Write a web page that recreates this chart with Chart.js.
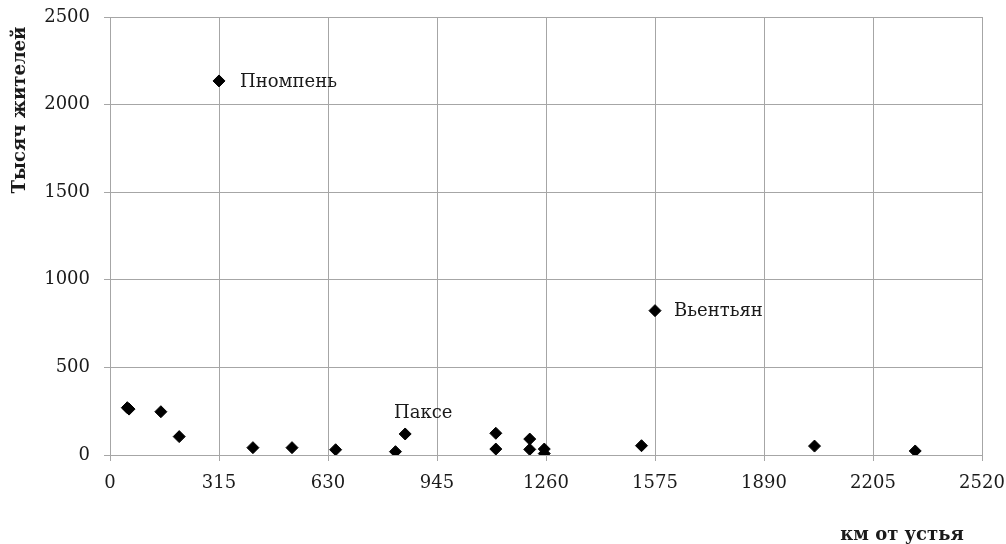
<!DOCTYPE html>
<html>
<head>
<meta charset="utf-8">
<script src="https://cdn.jsdelivr.net/npm/chart.js@4"></script>
<style>
  html, body { margin: 0; padding: 0; background: #fff; }
  #wrap { width: 1006px; height: 544px; }
</style>
</head>
<body>
<div id="wrap"><canvas id="myChart"></canvas></div>
<script>
// km from the river mouth / population in thousands
const kmFromMouth = [50, 55, 147, 200, 315, 413, 526, 652, 825, 853, 1115, 1115, 1213, 1213, 1255, 1255, 1536, 1575, 2036, 2327];
const thousandsPop = [270, 262, 247, 105, 2135, 42, 42, 30, 19, 120, 124, 34, 91, 32, 34, 8, 53, 824, 51, 23];

// named cities (index into the arrays above)
const cityNames = ["Пномпень", "Вьентьян", "Паксе"];
const cityIndex = [4, 17, 9];

const xTicks = [0, 315, 630, 945, 1260, 1575, 1890, 2205, 2520];
const yTicks = [0, 500, 1000, 1500, 2000, 2500];

const xTitle = "км от устья";
const yTitle = "Тысяч жителей";

const FONT = "'DejaVu Serif', serif";
const GRID = "#a6a6a6";

// label placement relative to the point (style, not data)
const labelStyle = [
  { dx: 21, dy: 1, align: "left" },
  { dx: 19, dy: 1, align: "left" },
  { dx: 18, dy: -21, align: "center" }
];

const labelsPlugin = {
  id: "cityLabels",
  afterDraw(chart) {
    const ctx = chart.ctx;
    const xs = chart.scales.x, ys = chart.scales.y;
    ctx.save();
    ctx.fillStyle = "#1a1a1a";
    ctx.font = "18px " + FONT;
    ctx.textBaseline = "middle";
    cityNames.forEach((name, i) => {
      const k = cityIndex[i];
      const st = labelStyle[i];
      ctx.textAlign = st.align;
      ctx.fillText(name, xs.getPixelForValue(kmFromMouth[k]) + st.dx, ys.getPixelForValue(thousandsPop[k]) + st.dy);
    });
    // axis titles
    ctx.font = "bold 18px " + FONT;
    ctx.textAlign = "center";
    ctx.fillText(xTitle, 902, 535);
    ctx.translate(20, 110);
    ctx.rotate(-Math.PI / 2);
    ctx.fillText(yTitle, 0, 0);
    ctx.restore();
  }
};

const ctx = document.getElementById("myChart").getContext("2d");
const myChart = new Chart(ctx, {
  type: "scatter",
  data: {
    datasets: [{
      data: kmFromMouth.map((x, i) => ({ x: x, y: thousandsPop[i] })),
      pointStyle: "rectRot",
      pointRadius: 6,
      pointBorderWidth: 1,
      backgroundColor: "#000",
      borderColor: "#000"
    }]
  },
  options: {
    responsive: true,
    maintainAspectRatio: false,
    animation: false,
    layout: { padding: { top: 17, right: 24, left: 0, bottom: 0 } },
    plugins: { legend: { display: false }, tooltip: { enabled: false } },
    scales: {
      x: {
        type: "linear",
        min: 0,
        max: 2520,
        afterBuildTicks: s => { s.ticks = xTicks.map(v => ({ value: v })); },
        afterFit: s => { s.height = 89; s.paddingLeft = 0; s.paddingRight = 0; },
        grid: { color: GRID, tickLength: 6 },
        border: { color: GRID },
        ticks: { font: { family: FONT, size: 18 }, color: "#1a1a1a", padding: 12, maxRotation: 0, callback: v => String(v) }
      },
      y: {
        min: 0,
        max: 2500,
        afterBuildTicks: s => { s.ticks = yTicks.map(v => ({ value: v })); },
        afterFit: s => { s.width = 110; s.paddingTop = 0; s.paddingBottom = 0; },
        grid: { color: GRID, tickLength: 6 },
        border: { color: GRID },
        ticks: { font: { family: FONT, size: 18 }, color: "#1a1a1a", padding: 14, callback: v => String(v) }
      }
    }
  },
  plugins: [labelsPlugin]
});
</script>
</body>
</html>
